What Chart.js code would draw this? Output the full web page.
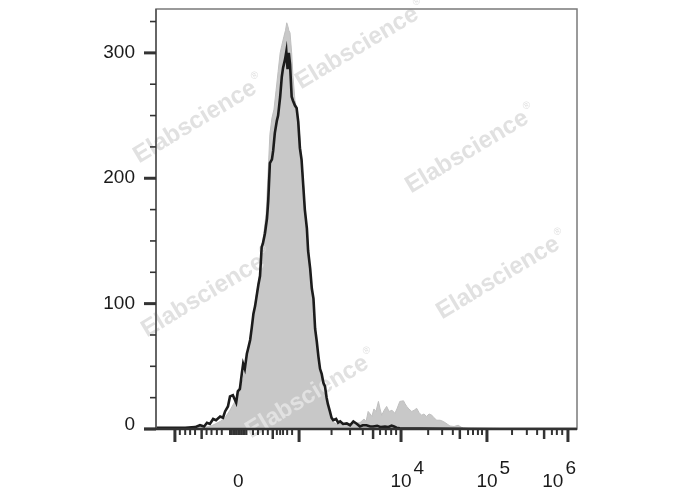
<!DOCTYPE html>
<html>
<head>
<meta charset="utf-8">
<script src="https://cdn.jsdelivr.net/npm/chart.js@4"></script>
<style>
  html, body { margin: 0; padding: 0; background: #fff; }
</style>
</head>
<body>
<canvas id="histo" width="688" height="490"></canvas>
<script>
// histogram channels (0-1024 biex display) and event counts
const grayCh = [0, 83, 107, 131, 144, 156, 168, 180, 192, 204, 212, 219, 229, 236, 243, 253, 260, 268, 272, 277,
  282, 287, 292, 297, 302, 306, 311, 315, 318, 321, 323, 326, 330, 333, 338, 343, 348, 353, 358, 362,
  367, 372, 377, 382, 387, 392, 396, 401, 406, 411, 416, 421, 426, 433, 440, 448, 460, 472, 484, 496,
  506, 511, 516, 521, 525, 530, 535, 541, 545, 549, 555, 561, 567, 574, 581, 586, 593, 602, 606, 610,
  615, 622, 628, 634, 640, 646, 652, 658, 664, 671, 676, 683, 691, 699, 708, 715, 725, 735, 742, 747,
  764, 1024];
const grayCounts = [0.5, 0.5, 1, 2, 4, 6, 9, 15, 22, 30, 40, 55, 70, 88, 105, 125, 150, 172, 200, 235,
  248, 255, 270, 285, 300, 306, 313, 318, 324, 321, 318, 316, 300, 282, 262, 255, 240, 220, 200, 178,
  158, 138, 118, 100, 82, 66, 52, 42, 34, 27, 20, 13, 8, 5, 4, 4, 4, 4, 4.5, 5,
  8, 6, 14, 12, 10, 16, 14, 22, 16, 11, 15, 18, 14, 15, 12.5, 16, 22, 22.5, 20, 18,
  16, 14, 15, 16.5, 13, 11, 12, 10, 12, 11, 9, 7, 7, 6, 4, 2.4, 2, 3, 1.5, 0.8,
  0.2, 0];

const blackCh = [0, 34, 71, 95, 107, 117, 124, 131, 139, 146, 156, 163, 168, 175, 180, 187, 195, 199, 204, 209,
  212, 216, 221, 224, 229, 233, 237, 241, 249, 253, 257, 260, 265, 270, 273, 277, 282, 285, 289, 294,
  297, 302, 306, 309, 314, 317, 320, 323, 326, 330, 333, 338, 342, 346, 350, 354, 358, 362, 367, 370,
  375, 379, 383, 387, 391, 395, 399, 403, 407, 411, 415, 418, 423, 427, 431, 438, 443, 448, 455, 464,
  472, 480, 489, 496, 503, 512, 521, 528, 538, 547, 557, 564, 573, 579, 585, 593, 642, 715, 837, 1024];
const blackCounts = [1, 1, 1, 1.5, 3, 2, 5, 4, 8, 7, 10, 9, 14, 18, 26, 27, 21, 30, 32, 45,
  52, 48, 60, 64, 71, 81, 92, 98, 115, 122, 145, 148, 156, 168, 182, 212, 215, 222, 236, 246,
  250, 265, 281, 288, 295, 301, 287, 300, 291, 265, 262, 258, 256, 245, 224, 215, 195, 175, 160, 142,
  128, 112, 104, 80, 70, 58, 48, 44, 37, 34, 25, 20, 14, 9, 7, 8, 5, 6, 4, 4.5,
  3, 6, 4, 2, 3, 3, 2, 2, 2.5, 1.5, 2, 1.5, 2.6, 2, 1, 0.5, 0.3, 0.2, 0, 0];

// y axis
const yTicks = [0, 25, 50, 75, 100, 125, 150, 175, 200, 225, 250, 275, 300, 325];
const yLabels = [0, 100, 200, 300];

// x axis (biex display channels)
const xMajorTicks = [46, 348, 596, 805, 1002];
const xMidTicks = [111, 284, 528, 739, 944];
const xMinorTicks = [58, 71, 83, 95, 123, 135, 148, 160,
  180, 184, 188, 192, 196, 200, 204, 208, 212, 216, 220,
  236, 248, 260, 272, 294, 302, 309, 319, 331,
  427, 472, 503, 545, 559, 572, 584,
  662, 696, 722, 759, 771, 783, 793,
  866, 902, 927, 963, 975, 988];
const xLabels = [
  { ch: 200, base: '0', exp: '' },
  { ch: 596, base: '10', exp: '4' },
  { ch: 805, base: '10', exp: '5' },
  { ch: 1002, base: '10', exp: '6' }
];

const watermarks = [[357, 48], [195, 122], [467, 152], [203, 296], [498, 278], [307, 397]];
const FONT = '"Liberation Sans", Arial, sans-serif';

const watermarkPlugin = {
  id: 'watermark',
  afterDatasetDraw(chart, args) {
    if (args.index !== 0) return;
    const ctx = chart.ctx;
    ctx.save();
    ctx.fillStyle = '#e1e1e1';
    watermarks.forEach(([x, y]) => {
      ctx.save();
      ctx.translate(x, y);
      ctx.rotate(-31 * Math.PI / 180);
      ctx.font = 'bold 24px ' + FONT;
      ctx.textAlign = 'center';
      ctx.textBaseline = 'middle';
      ctx.fillText('Elabscience', 0, 0);
      const w = ctx.measureText('Elabscience').width;
      ctx.font = '10px ' + FONT;
      ctx.textAlign = 'left';
      ctx.fillText('®', w / 2 + 2, -9);
      ctx.restore();
    });
    ctx.restore();
  }
};

const axesPlugin = {
  id: 'flowAxes',
  afterDraw(chart) {
    const ctx = chart.ctx;
    const a = chart.chartArea;
    const xs = chart.scales.x;
    const ys = chart.scales.y;
    ctx.save();

    // frame
    ctx.strokeStyle = '#7a7a7a';
    ctx.lineWidth = 1.5;
    ctx.strokeRect(a.left, a.top, a.right - a.left, a.bottom - a.top);
    ctx.strokeStyle = '#555';
    ctx.beginPath();
    ctx.moveTo(a.left, a.top);
    ctx.lineTo(a.left, a.bottom);
    ctx.stroke();

    // y ticks
    ctx.strokeStyle = '#333';
    yTicks.forEach(v => {
      const y = ys.getPixelForValue(v);
      const major = yLabels.includes(v);
      ctx.lineWidth = major ? 3 : 1.6;
      ctx.beginPath();
      ctx.moveTo(a.left - (major ? 12 : 6), y);
      ctx.lineTo(a.left, y);
      ctx.stroke();
    });

    // x ticks
    const drawX = (list, len, width) => {
      ctx.lineWidth = width;
      list.forEach(c => {
        const x = xs.getPixelForValue(c);
        ctx.beginPath();
        ctx.moveTo(x, a.bottom);
        ctx.lineTo(x, a.bottom + len);
        ctx.stroke();
      });
    };
    drawX(xMinorTicks, 6, 2);
    drawX(xMidTicks, 10, 2.5);
    drawX(xMajorTicks, 13, 3);

    // x baseline
    ctx.strokeStyle = '#333';
    ctx.lineWidth = 2.5;
    ctx.beginPath();
    ctx.moveTo(a.left - 12, a.bottom);
    ctx.lineTo(a.right, a.bottom);
    ctx.stroke();

    // y labels
    ctx.fillStyle = '#1a1a1a';
    ctx.font = '19px ' + FONT;
    ctx.textAlign = 'right';
    ctx.textBaseline = 'middle';
    yLabels.forEach(v => {
      const y = ys.getPixelForValue(v);
      ctx.fillText(String(v), a.left - 21, v === 0 ? y - 4 : y);
    });

    // x labels
    ctx.textAlign = 'left';
    ctx.textBaseline = 'alphabetic';
    const baseY = a.bottom + 58;
    xLabels.forEach(l => {
      const x = xs.getPixelForValue(l.ch);
      const wb = ctx.measureText(l.base).width;
      const we = l.exp ? ctx.measureText(l.exp).width : 0;
      let start = x - wb / 2;
      const end = start + wb + (l.exp ? we + 2 : 0);
      if (end > a.right - 1) start -= end - (a.right - 1);
      ctx.fillText(l.base, start, baseY);
      if (l.exp) ctx.fillText(l.exp, start + wb + 2, baseY - 13);
    });
    ctx.restore();
  }
};

const toPoints = (xs, ys) => xs.map((x, i) => ({ x: x, y: ys[i] }));

new Chart(document.getElementById('histo'), {
  type: 'line',
  data: {
    datasets: [
      {
        label: 'Control',
        data: toPoints(grayCh, grayCounts),
        borderColor: '#bfbfbf',
        backgroundColor: '#c8c8c8',
        borderWidth: 1,
        fill: 'origin',
        pointRadius: 0,
        tension: 0,
        order: 2
      },
      {
        label: 'Stained',
        data: toPoints(blackCh, blackCounts),
        borderColor: '#1c1c1c',
        borderWidth: 2.6,
        fill: false,
        pointRadius: 0,
        tension: 0,
        order: 1
      }
    ]
  },
  options: {
    responsive: false,
    devicePixelRatio: 1,
    animation: false,
    layout: { padding: { left: 156, right: 111, top: 9, bottom: 61 } },
    plugins: { legend: { display: false }, tooltip: { enabled: false } },
    scales: {
      x: { type: 'linear', min: 0, max: 1024, display: false },
      y: { type: 'linear', min: 0, max: 335, display: false }
    }
  },
  plugins: [watermarkPlugin, axesPlugin]
});
</script>
</body>
</html>
